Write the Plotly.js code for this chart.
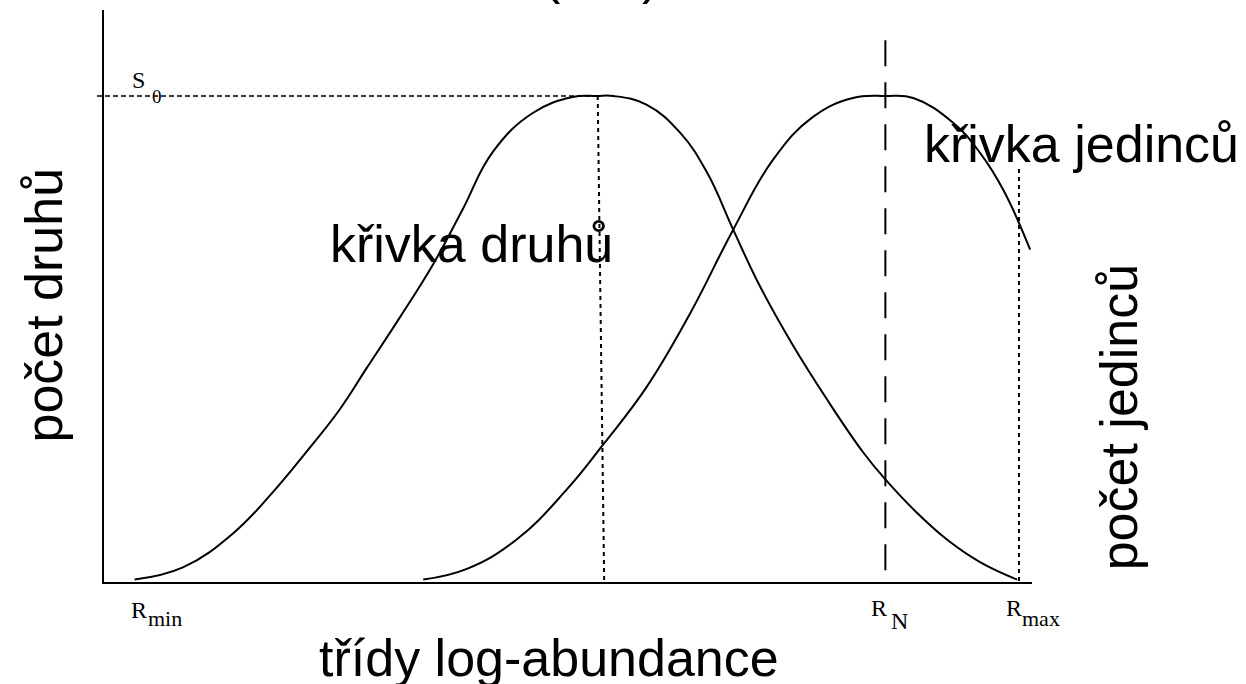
<!DOCTYPE html>
<html>
<head>
<meta charset="utf-8">
<script src="https://cdn.plot.ly/plotly-3.0.1.min.js"></script>
<style>
html, body { margin: 0; padding: 0; background: #fff; }
#graf { width: 1246px; height: 684px; }
</style>
</head>
<body>
<div id="graf"></div>
<script>
// křivka druhů (x = třída log-abundance, y = relativně k S0)
const druhyX = [0.33, 0.85, 1.39, 1.82, 2.19, 2.54, 2.83, 3.19, 3.55, 3.86, 4.19, 4.62, 5.05, 5.31,
                5.49, 5.85, 6.21, 6.50, 6.78, 7.07, 7.43, 7.79, 8.18, 8.42, 8.72, 9.08, 9.44, 9.84];
const druhyY = [0.005, 0.03, 0.10, 0.185, 0.27, 0.355, 0.44, 0.545, 0.655, 0.765, 0.885, 0.965, 0.998, 1.0,
                1.0, 0.982, 0.924, 0.842, 0.725, 0.608, 0.485, 0.376, 0.267, 0.211, 0.150, 0.088, 0.041, 0.005];

// křivka jedinců
const jedinciX = [3.44, 3.91, 4.45, 4.99, 5.38, 5.85, 6.32, 6.78, 7.21, 7.64, 8.07, 8.42, 8.72, 9.15, 9.44, 9.69, 9.98];
const jedinciY = [0.005, 0.027, 0.088, 0.191, 0.283, 0.402, 0.554, 0.725, 0.869, 0.957, 0.996, 1.0, 0.996, 0.945, 0.883, 0.807, 0.684];

// pomocné čáry
const s0 = 1.0;
const modusDruhu = [5.32, 5.39];   // tečkovaná čára: nahoře / dole
const rN = 8.42;
const rNTop = 1.115;
const rMax = 9.86;
const rMaxTop = 0.85;

const xRozsah = [0, 10];
const yRozsah = [0, 1.177];

const cerna = '#000';

const data = [
    {
        x: druhyX,
        y: druhyY,
        mode: 'lines',
        line: {color: cerna, width: 2, shape: 'spline', smoothing: 1.2}
    },
    {
        x: jedinciX,
        y: jedinciY,
        mode: 'lines',
        line: {color: cerna, width: 2, shape: 'spline', smoothing: 1.2}
    }
];

function cara(x0, y0, x1, y1, width, dash) {
    return {type: 'line', xref: 'x', yref: 'y', x0: x0, y0: y0, x1: x1, y1: y1,
            line: {color: cerna, width: width, dash: dash}};
}

// popisky mimo rozsah os se kreslí v souřadnicích papíru
function px(x) { return (x - xRozsah[0]) / (xRozsah[1] - xRozsah[0]); }
function py(y) { return (y - yRozsah[0]) / (yRozsah[1] - yRozsah[0]); }

function popisek(text, x, y, size, family, angle) {
    return {
        text: text, x: x, y: y,
        xref: 'paper', yref: 'paper',
        showarrow: false, xanchor: 'center', yanchor: 'middle',
        textangle: angle || 0,
        font: {family: family, size: size, color: cerna}
    };
}

const sans = 'Liberation Sans, Arial, sans-serif';
const serif = 'Liberation Serif, Times New Roman, serif';

const layout = {
    width: 1246,
    height: 684,
    margin: {l: 104, r: 214, t: 10, b: 102},
    paper_bgcolor: '#fff',
    plot_bgcolor: '#fff',
    showlegend: false,
    font: {family: sans, color: cerna},
    xaxis: {range: xRozsah, showline: true, linewidth: 2, linecolor: cerna,
            showgrid: false, zeroline: false, showticklabels: false, ticks: ''},
    yaxis: {range: yRozsah, showline: true, linewidth: 2, linecolor: cerna,
            showgrid: false, zeroline: false, showticklabels: false, ticks: ''},
    shapes: [
        {type: 'line', xref: 'paper', yref: 'y', x0: -0.0075, x1: px(modusDruhu[0]), y0: s0, y1: s0,
         line: {color: cerna, width: 1.5, dash: '5px,3px'}},
        cara(modusDruhu[0], s0, modusDruhu[1], 0, 2, '4px,4px'),
        cara(rN, rNTop, rN, -0.02, 2, '26px,16px'),
        cara(rMax, rMaxTop, rMax, 0, 2, '4px,4px')
    ],
    annotations: [
        popisek('(', 0.4828, 1.062, 52, sans),
        popisek(')', 0.5894, 1.062, 52, sans),
        popisek('počet druhů', -0.0647, 0.485, 52, sans, -90),
        popisek('počet jedinců', 1.0938, 0.288, 52, sans, -90),
        popisek('třídy log-abundance', 0.4795, -0.1326, 52, sans),
        popisek('křivka druhů', px(3.96), py(0.696), 52, sans),
        popisek('křivka jedinců', px(10.53), py(0.901), 52, sans),
        popisek('S', px(0.372), py(1.033), 24, serif),
        popisek('0', px(0.571), py(0.999), 19, serif),
        popisek('R', px(0.372), py(-0.0575), 24, serif),
        popisek('min', px(0.652), py(-0.0752), 22, serif),
        popisek('R', px(8.351), py(-0.0534), 24, serif),
        popisek('N', px(8.572), py(-0.0801), 24, serif),
        popisek('R', px(9.801), py(-0.0534), 24, serif),
        popisek('max', px(10.097), py(-0.0752), 22, serif)
    ]
};

Plotly.newPlot('graf', data, layout, {staticPlot: true});
</script>
</body>
</html>
